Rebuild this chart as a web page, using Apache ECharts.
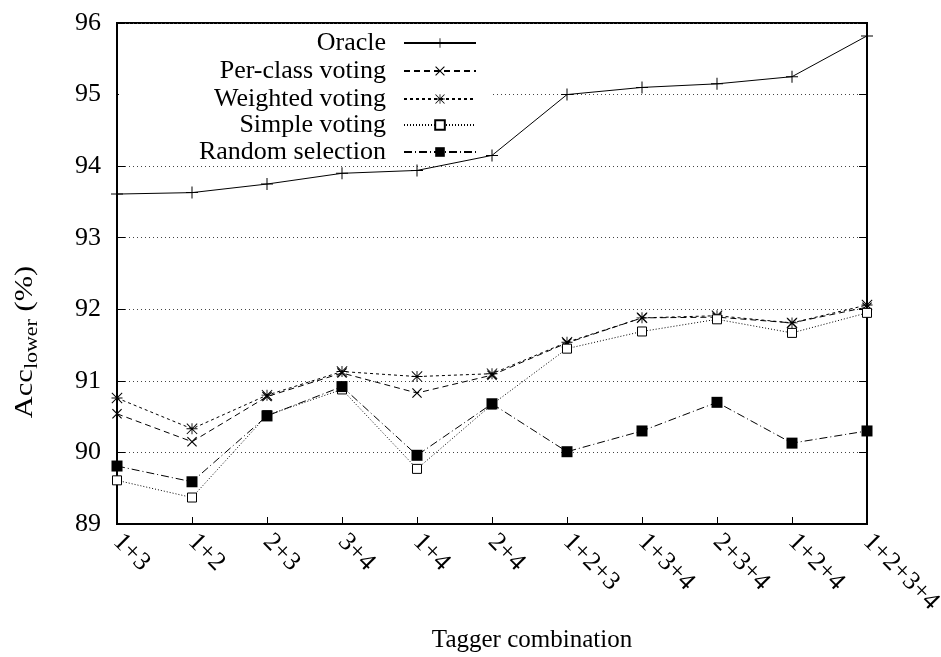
<!DOCTYPE html>
<html>
<head>
<meta charset="utf-8">
<script src="https://cdn.jsdelivr.net/npm/echarts@6/dist/echarts.min.js"></script>
<style>
html,body{margin:0;padding:0;background:#fff;}
#chart{width:941px;height:657px;}
</style>
</head>
<body>
<div id="chart"></div>
<script>
const categories = ['1+3','1+2','2+3','3+4','1+4','2+4','1+2+3','1+3+4','2+3+4','1+2+4','1+2+3+4'];
const oracle    = [93.61, 93.63, 93.75, 93.90, 93.94, 94.15, 95.00, 95.10, 95.15, 95.25, 95.82];
const perClass  = [90.54, 90.15, 90.78, 91.11, 90.83, 91.08, 91.53, 91.88, 91.89, 91.81, 92.03];
const weighted  = [90.76, 90.33, 90.80, 91.13, 91.06, 91.10, 91.54, 91.88, 91.91, 91.81, 92.06];
const simple    = [89.61, 89.37, 90.52, 90.88, 89.77, 90.67, 91.45, 91.69, 91.86, 91.67, 91.95];
const random    = [89.81, 89.59, 90.51, 90.92, 89.96, 90.68, 90.01, 90.30, 90.70, 90.13, 90.30];
const seriesNames = ['Oracle', 'Per-class voting', 'Weighted voting', 'Simple voting', 'Random selection'];
const yTicks = [89, 90, 91, 92, 93, 94, 95, 96];

const FONT = 'Liberation Serif';
const plusPath = 'path://M5.5,0h1v12h-1z M0,5.5h12v1h-12z';
const crossPath = 'path://M0,0.8 L0.8,0 L10,9.2 L9.2,10Z M9.2,0 L10,0.8 L0.8,10 L0,9.2Z';
const starPath = 'path://M4.6,0h0.8v10h-0.8z M0,4.6h10v0.8h-10z M0,0.6 L0.6,0 L10,9.4 L9.4,10Z M9.4,0 L10,0.6 L0.6,10 L0,9.4Z';

const styles = [
  {symbol: plusPath, size: 12, dash: 'solid', fill: '#000', border: 0},
  {symbol: crossPath, size: 10, dash: [6, 4], fill: '#000', border: 0},
  {symbol: starPath, size: 11, dash: [3, 3], fill: '#000', border: 0},
  {symbol: 'rect', size: 9, dash: [1, 2], fill: '#fff', border: 1},
  {symbol: 'rect', size: 11, dash: [8, 3, 1, 3], fill: '#000', border: 0}
];
const datas = [oracle, perClass, weighted, simple, random];

const series = seriesNames.map((name, i) => ({
  name: name,
  type: 'line',
  data: datas[i],
  symbol: styles[i].symbol,
  symbolSize: styles[i].size,
  showAllSymbol: true,
  animation: false,
  lineStyle: {color: '#000', width: 1, type: styles[i].dash},
  itemStyle: {color: styles[i].fill, borderColor: '#000', borderWidth: styles[i].border},
  z: 3 + i
}));

const legendCenters = [43, 71, 99, 125, 152];
const legends = seriesNames.map((name, i) => ({
  data: [name],
  orient: 'vertical',
  right: 464,
  top: legendCenters[i] - 13,
  padding: 0,
  align: 'right',
  itemWidth: 72,
  itemHeight: 12,
  selectedMode: false,
  textStyle: {fontFamily: FONT, fontSize: 26, color: '#000', lineHeight: 26, padding: [0, 13, 0, 0]}
}));

const chart = echarts.init(document.getElementById('chart'), null, {renderer: 'canvas'});
chart.setOption({
  animation: false,
  backgroundColor: '#fff',
  grid: {left: 117, right: 74, top: 23, bottom: 133, show: true, borderColor: '#000', borderWidth: 2,
    backgroundColor: 'transparent', containLabel: false, outerBoundsMode: 'none'},
  legend: legends,
  xAxis: {
    type: 'category',
    data: categories,
    boundaryGap: false,
    axisLine: {show: true, lineStyle: {color: '#000', width: 2}},
    axisTick: {show: true, inside: true, length: 7, alignWithLabel: true, lineStyle: {color: '#000', width: 1}},
    axisLabel: {rotate: -45, margin: 14, fontFamily: FONT, fontSize: 26, color: '#000', interval: 0, hideOverlap: false},
    splitLine: {show: false}
  },
  yAxis: [{
    type: 'value',
    min: yTicks[0],
    max: yTicks[yTicks.length - 1],
    interval: 1,
    axisLine: {show: true, lineStyle: {color: '#000', width: 2}},
    axisTick: {show: true, inside: true, length: 8, lineStyle: {color: '#000', width: 1}},
    axisLabel: {margin: 16, fontFamily: FONT, fontSize: 26, color: '#000'},
    splitLine: {show: true, lineStyle: {color: '#444', width: 1, type: [1, 3]}}
  }, {
    type: 'value',
    position: 'right',
    min: yTicks[0],
    max: yTicks[yTicks.length - 1],
    interval: 1,
    axisLine: {show: true, lineStyle: {color: '#000', width: 2}},
    axisTick: {show: true, inside: true, length: 8, lineStyle: {color: '#000', width: 1}},
    axisLabel: {show: false},
    splitLine: {show: false}
  }],
  graphic: [
    {type: 'rect', z: 1, shape: {x: 119, y: 25, width: 374, height: 132}, style: {fill: '#fff'}},
    {type: 'text', x: 25, y: 342, rotation: Math.PI / 2, scaleX: 1.22, z: 10,
      style: {
        text: '{a|Acc}{s|lower}{a| (%)}',
        align: 'center', verticalAlign: 'middle',
        rich: {
          a: {fontFamily: FONT, fontSize: 25, fill: '#000', lineHeight: 30, verticalAlign: 'middle'},
          s: {fontFamily: FONT, fontSize: 18, fill: '#000', lineHeight: 30, verticalAlign: 'middle', padding: [14, 0, 0, 0]}
        }
      }},
    {type: 'text', x: 532, y: 640, z: 10,
      style: {text: 'Tagger combination', fontFamily: FONT, fontSize: 25, fill: '#000', align: 'center', verticalAlign: 'middle'}}
  ],
  series: series
});
</script>
</body>
</html>
